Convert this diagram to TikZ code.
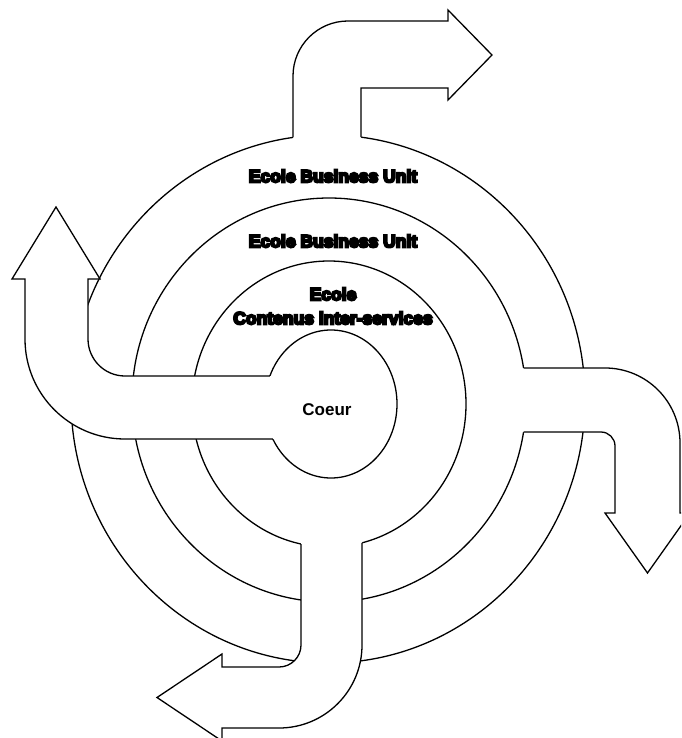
\documentclass[tikz,border=0pt]{standalone}
\usepackage{fontspec}
\setmainfont{Liberation Sans}
\newfontfamily\heavyfont{Liberation Sans}[BoldFeatures={FakeBold=12}]

% arm outlines, shared by the white fill and the black line
\newcommand{\westarm}{-- (125,376) arc[start angle=90, end angle=180, radius=37] -- (88,279) -- (100,279) -- (56,207) -- (12,279) -- (25,279) -- (25,339) arc[start angle=180, end angle=90, radius=100]}
\newcommand{\northarm}{-- (293,76) arc[start angle=180, end angle=270, radius=55] -- (448,21) -- (448,10) -- (492,55) -- (448,100) -- (448,88) -- (361,88)}
\newcommand{\eastarm}{-- (605,368) arc[start angle=270, end angle=360, radius=75] -- (680,513) -- (690,513) -- (647.5,573) -- (605,513) -- (615,513) -- (615,446) arc[start angle=0, end angle=-90, radius=14]}
\newcommand{\southarm}{-- (362,645) arc[start angle=0, end angle=90, radius=83] -- (222,728) -- (222,741) -- (157,697.5) -- (222,654) -- (222,667) -- (279,667) arc[start angle=90, end angle=0, radius=22]}

\tikzset{
  ringline/.style={draw=black, line width=1.3pt},
  armfill/.style={fill=white},
  armline/.style={draw=black, line width=1.3pt, line join=miter},
  ringlabel/.style={font=\heavyfont\bfseries\fontsize{17.5}{24}\selectfont, align=center, inner sep=0pt},
  corelabel/.style={font=\bfseries\fontsize{17}{20}\selectfont, inner sep=0pt}
}

\begin{document}
\begin{tikzpicture}[x=1pt, y=-1pt]
\useasboundingbox (0,0) rectangle (681,738);
\clip (0,0) rectangle (681,738);

% ---------- rings ----------
\draw[ringline] (328,399) ellipse [x radius=257, y radius=264];
\draw[ringline] (329,400) ellipse [x radius=197, y radius=202];
\draw[ringline] (329,404) ellipse [x radius=137, y radius=143];
\draw[ringline, fill=white] (331,404) ellipse [x radius=66, y radius=74];

% ---------- arms ----------
\fill[armfill] (277,376) \westarm -- (277,439) -- cycle;
\draw[armline] (269.9,376) \westarm -- (272.9,439);

\fill[armfill] (293,141) \northarm -- (361,141) -- cycle;
\draw[armline] (293,137.5) \northarm -- (361,137.2);

\fill[armfill] (519,368) \eastarm -- (519,432) -- cycle;
\draw[armline] (523.5,368) \eastarm -- (523.5,432);

\fill[armfill] (362,538) \southarm -- (301,538) -- cycle;
\draw[armline] (362,542.8) \southarm -- (301,544);

% ---------- labels ----------
\node[ringlabel] (outerlabel) at (333,176) {Ecole Business Unit};
\node[ringlabel] (middlelabel) at (333,241) {Ecole Business Unit};
\node[ringlabel] (innerlabel) at (333,306) {Ecole\\Contenus inter-services};
\node[corelabel] (corelabel) at (327,410) {Coeur};

\end{tikzpicture}
\end{document}
